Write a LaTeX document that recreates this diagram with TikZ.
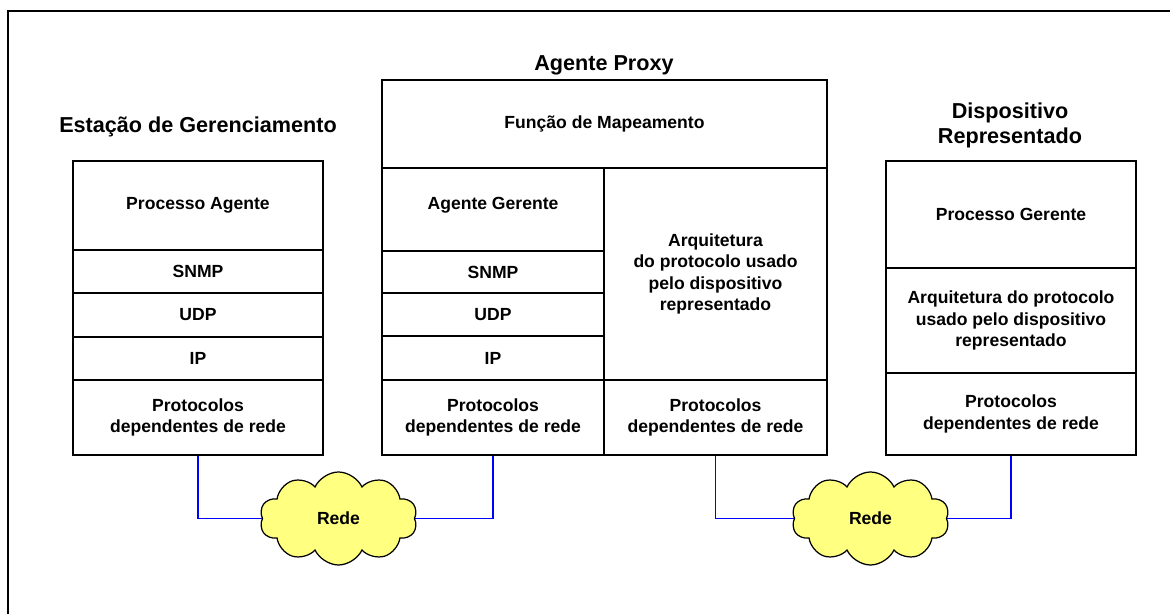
\documentclass[tikz,border=0pt]{standalone}
\usepackage{fontspec}
\setmainfont{Liberation Sans}
\usetikzlibrary{shapes.symbols}
\tikzstyle{box}=[rectangle, draw=black, line width=0.6pt, inner sep=0pt, align=center, anchor=center, font=\bfseries\fontsize{10}{12}\selectfont]
\tikzstyle{annot}=[align=center, font=\bfseries\fontsize{12.3}{14.2}\selectfont]
\tikzstyle{rede}=[cloud, cloud puffs=10, cloud puff arc=130, aspect=1.7, draw=black, line width=0.7pt, fill=cloudyellow, inner sep=0pt, minimum width=3.15cm, minimum height=1.86cm, font=\bfseries\fontsize{10}{12}\selectfont]
\tikzstyle{link}=[draw=blue, line width=0.6pt]
\definecolor{cloudyellow}{RGB}{255,255,128}

\begin{document}
\begin{tikzpicture}
	\useasboundingbox (0,0) rectangle (23.4,-12.28);
	% moldura
	\draw[line width=1.2pt] (0.16,-12.28) -- (0.16,-0.22) -- (23.4,-0.22);

	% titulos
	\node[annot] (tit1) at (3.96,-2.54) {Estação de Gerenciamento};
	\node[annot] (tit2) at (12.08,-1.30) {Agente Proxy};
	\node[annot] (tit3) at (20.2,-2.51) {Dispositivo\\Representado};

	% estacao de gerenciamento
	\node[box, minimum width=5cm, minimum height=1.78cm] (pa1) at (3.96,-4.11) {Processo Agente};
	\node[box, minimum width=5cm, minimum height=0.86cm] (snmp1) at (3.96,-5.43) {SNMP};
	\node[box, minimum width=5cm, minimum height=0.88cm] (udp1) at (3.96,-6.30) {UDP};
	\node[box, minimum width=5cm, minimum height=0.86cm] (ip1) at (3.96,-7.17) {IP};
	\node[box, minimum width=5cm, minimum height=1.5cm] (prot1) at (3.96,-8.35) {Protocolos\\dependentes de rede};

	% agente proxy
	\node[box, minimum width=8.9cm, minimum height=1.76cm] (map) at (12.09,-2.48) {Função de Mapeamento};
	\node[box, minimum width=4.44cm, minimum height=1.66cm, text depth=0.25cm] (ag2) at (9.86,-4.19) {Agente Gerente};
	\node[box, minimum width=4.44cm, minimum height=0.84cm] (snmp2) at (9.86,-5.44) {SNMP};
	\node[box, minimum width=4.44cm, minimum height=0.86cm] (udp2) at (9.86,-6.29) {UDP};
	\node[box, minimum width=4.44cm, minimum height=0.88cm] (ip2) at (9.86,-7.16) {IP};
	\node[box, minimum width=4.44cm, minimum height=1.5cm] (prot2) at (9.86,-8.35) {Protocolos\\dependentes de rede};
	\node[box, minimum width=4.46cm, minimum height=4.24cm] (arq2) at (14.31,-5.48) {Arquitetura\\do protocolo usado\\pelo dispositivo\\representado};
	\node[box, minimum width=4.46cm, minimum height=1.5cm] (prot3) at (14.31,-8.35) {Protocolos\\dependentes de rede};

	% dispositivo representado
	\node[box, minimum width=5cm, minimum height=2.14cm] (pg3) at (20.22,-4.29) {Processo Gerente};
	\node[box, minimum width=5cm, minimum height=2.10cm] (arq3) at (20.22,-6.41) {Arquitetura do protocolo\\usado pelo dispositivo\\representado};
	\node[box, minimum width=5cm, minimum height=1.64cm] (prot4) at (20.22,-8.28) {Protocolos\\dependentes de rede};

	% redes
	\node[rede] (rede1) at (6.77,-10.37) {Rede};
	\node[rede] (rede2) at (17.41,-10.37) {Rede};

	\draw[link] (prot1.south) |- (rede1.west);
	\draw[link] (prot2.south) |- (rede1.east);
	\draw[link] (prot3.south) |- (rede2.west);
	\draw[link] (prot4.south) |- (rede2.east);

\end{tikzpicture}
\end{document}
